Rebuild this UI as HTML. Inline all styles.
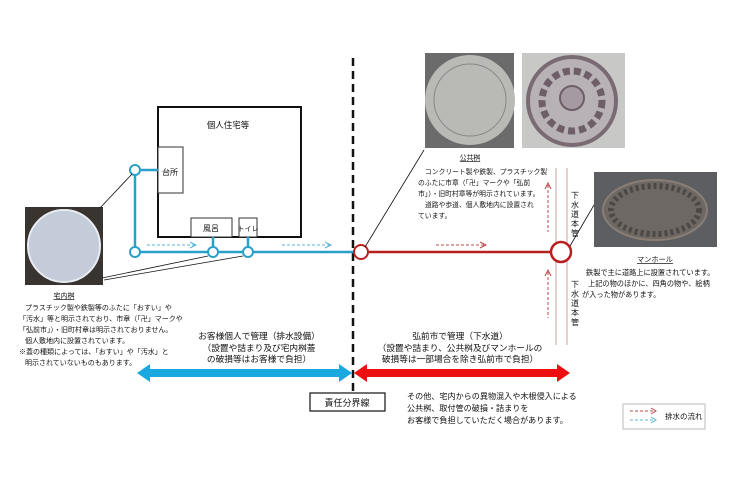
<!DOCTYPE html>
<html><head><meta charset="utf-8"><style>
html,body{margin:0;padding:0;background:#fff;}
svg text{font-family:"Liberation Sans","Noto Sans CJK JP",sans-serif;fill:#111;}
</style></head><body>
<svg width="750" height="482" viewBox="0 0 750 482" xmlns="http://www.w3.org/2000/svg">
<!-- photos -->
<rect x="25" y="207" width="78" height="78" fill="#3a3430"/>
<circle cx="64" cy="246" r="36" fill="#c4ccd9" stroke="#e8ecf2" stroke-width="2"/>
<rect x="425" y="53" width="89" height="95" fill="#6b6b6b"/>
<circle cx="470" cy="100" r="45" fill="#b9b9b6"/>
<circle cx="470" cy="100" r="36" fill="none" stroke="#888" stroke-width="1"/>
<rect x="522" y="53" width="103" height="95" fill="#c8c8c6"/>
<circle cx="572" cy="101" r="44" fill="#b8b2b6" stroke="#7a6a74" stroke-width="4"/>
<circle cx="572" cy="101" r="30" fill="none" stroke="#6e5e68" stroke-width="7" stroke-dasharray="7 4"/>
<circle cx="572" cy="98" r="12" fill="#a69aa2" stroke="#6e5e68" stroke-width="2"/>
<rect x="594" y="172" width="123" height="75" fill="#5c5e62"/>
<ellipse cx="655" cy="210" rx="52" ry="30" fill="#6e6864" stroke="#8a7e74" stroke-width="2"/>
<ellipse cx="655" cy="210" rx="44" ry="24" fill="none" stroke="#4e4844" stroke-width="6" stroke-dasharray="3 3"/>
<!-- house -->
<rect x="158" y="107" width="143" height="130" fill="#fff" stroke="#111" stroke-width="2"/>
<text x="228" y="128" font-size="8.5" text-anchor="middle">個人住宅等</text>
<rect x="158" y="147" width="25" height="46" fill="#fff" stroke="#333" stroke-width="1"/>
<text x="170" y="175" font-size="8" text-anchor="middle">台所</text>
<rect x="191" y="218" width="41" height="19" fill="#fff" stroke="#333" stroke-width="1"/>
<text x="211" y="231" font-size="8" text-anchor="middle">風呂</text>
<rect x="239" y="218" width="18" height="19" fill="#fff" stroke="#333" stroke-width="1"/>
<text x="248" y="231" font-size="7" text-anchor="middle">トイレ</text>
<!-- boundary -->
<line x1="353" y1="58" x2="353" y2="400" stroke="#111" stroke-width="2.5" stroke-dasharray="8 5"/>
<!-- cyan pipes -->
<g stroke="#2aa0c8" stroke-width="2.5" fill="none">
<line x1="135" y1="170" x2="135" y2="252"/>
<line x1="135" y1="170" x2="158" y2="170"/>
<line x1="135" y1="252" x2="354" y2="252"/>
<line x1="213" y1="237" x2="213" y2="252"/>
<line x1="248" y1="237" x2="248" y2="252"/>
</g>
<g stroke="#2aa0c8" stroke-width="2" fill="#fff">
<circle cx="135" cy="170" r="5"/><circle cx="135" cy="252" r="5"/>
<circle cx="213" cy="252" r="5"/><circle cx="248" cy="252" r="5"/>
</g>
<!-- red pipe -->
<line x1="369" y1="252" x2="550" y2="252" stroke="#b82020" stroke-width="2.5"/>
<line x1="556" y1="168" x2="556" y2="345" stroke="#c8a0a0" stroke-width="1"/>
<line x1="567" y1="168" x2="567" y2="345" stroke="#c8a0a0" stroke-width="1"/>
<circle cx="361" cy="252" r="7" fill="#fff" stroke="#b82020" stroke-width="2"/>
<circle cx="561" cy="252" r="10" fill="#fff" stroke="#b82020" stroke-width="2.5"/>
<!-- flow arrows -->
<g stroke="#5ab4d0" stroke-width="1" fill="none" stroke-dasharray="3 2">
<line x1="147" y1="245" x2="195" y2="245"/><line x1="282" y1="245" x2="330" y2="245"/>
</g>
<g stroke="#5ab4d0" stroke-width="1" fill="none">
<polyline points="190,242 196,245 190,248"/><polyline points="325,242 331,245 325,248"/>
</g>
<g stroke="#b84a4a" stroke-width="1" fill="none" stroke-dasharray="3 2">
<line x1="436" y1="245" x2="485" y2="245"/>
<line x1="548" y1="185" x2="548" y2="232"/><line x1="548" y1="272" x2="548" y2="318"/>
</g>
<g stroke="#b84a4a" stroke-width="1" fill="none">
<polyline points="480,242 486,245 480,248"/>
<polyline points="545,189 548,183 551,189"/><polyline points="545,276 548,270 551,276"/>
</g>
<!-- pointer lines -->
<g stroke="#111" stroke-width="0.8" fill="none">
<line x1="100" y1="208" x2="132" y2="174"/>
<line x1="102" y1="278" x2="208" y2="256"/>
<line x1="104" y1="280" x2="243" y2="256"/>
<line x1="424" y1="150" x2="365" y2="247"/>
<line x1="594" y1="205" x2="570" y2="246"/>
</g>
<!-- vertical text -->
<g font-size="8" text-anchor="middle">
<text x="575" y="198">下</text><text x="575" y="207.5">水</text><text x="575" y="217">道</text><text x="575" y="226.5">本</text><text x="575" y="236">管</text>
<text x="575" y="287">下</text><text x="575" y="296.5">水</text><text x="575" y="306">道</text><text x="575" y="315.5">本</text><text x="575" y="325">管</text>
</g>
<!-- captions -->
<g font-size="7">
<text x="64" y="298" text-anchor="middle" text-decoration="underline">宅内桝</text>
<text x="25" y="310">プラスチック製や鉄製等のふたに「おすい」や</text>
<text x="19" y="321">「汚水」等と明示されており、市章（「卍」マークや</text>
<text x="19" y="332">「弘前市」）・旧町村章は明示されておりません。</text>
<text x="25" y="343">個人敷地内に設置されています。</text>
<text x="19" y="354">※蓋の種類によっては、「おすい」や「汚水」と</text>
<text x="25" y="365">明示されていないものもあります。</text>
</g>
<g font-size="6.8">
<text x="470" y="160" text-anchor="middle" text-decoration="underline">公共桝</text>
<text x="425" y="174">コンクリート製や鉄製、プラスチック製</text>
<text x="418" y="185">のふたに市章（「卍」マークや「弘前</text>
<text x="418" y="196">市」）・旧町村章等が明示されています。</text>
<text x="425" y="207">道路や歩道、個人敷地内に設置され</text>
<text x="418" y="218">ています。</text>
</g>
<g font-size="7.2">
<text x="655" y="262" text-anchor="middle" text-decoration="underline">マンホール</text>
<text x="586" y="275">鉄製で主に道路上に設置されています。</text>
<text x="588" y="286">上記の物のほかに、四角の物や、絵柄</text>
<text x="582" y="297">が入った物があります。</text>
</g>
<g font-size="8.7" text-anchor="middle">
<text x="259" y="339">お客様個人で管理（排水設備）</text>
<text x="259" y="351">（設置や詰まり及び宅内桝蓋</text>
<text x="259" y="362">の破損等はお客様で負担）</text>
<text x="460" y="339">弘前市で管理（下水道）</text>
<text x="460" y="351">（設置や詰まり、公共桝及びマンホールの</text>
<text x="460" y="362">破損等は一部場合を除き弘前市で負担）</text>
</g>
<!-- big arrows -->
<polygon points="137,373 150,364 150,369 339,369 339,364 352,373 339,382 339,377 150,377 150,382" fill="#1aa8e0"/>
<polygon points="354,373 367,364 367,369 557,369 557,364 570,373 557,382 557,377 367,377 367,382" fill="#ee1010"/>
<!-- boundary label -->
<rect x="310" y="393" width="75" height="18" fill="#fff" stroke="#111" stroke-width="1.2"/>
<text x="347" y="406" font-size="9" text-anchor="middle">責任分界線</text>
<g font-size="8.1">
<text x="407" y="399">その他、宅内からの異物混入や木根侵入による</text>
<text x="407" y="411">公共桝、取付管の破損・詰まりを</text>
<text x="407" y="423">お客様で負担していただく場合があります。</text>
</g>
<!-- legend -->
<rect x="623" y="404" width="82" height="25" fill="#fff" stroke="#bbb" stroke-width="1"/>
<line x1="630" y1="411" x2="655" y2="411" stroke="#b84a4a" stroke-dasharray="3 2"/>
<polyline points="651,408 656,411 651,414" stroke="#b84a4a" fill="none"/>
<line x1="630" y1="420" x2="655" y2="420" stroke="#5ab4d0" stroke-dasharray="3 2"/>
<polyline points="651,417 656,420 651,423" stroke="#5ab4d0" fill="none"/>
<text x="665" y="419" font-size="7.5">排水の流れ</text>
</svg>
</body></html>
